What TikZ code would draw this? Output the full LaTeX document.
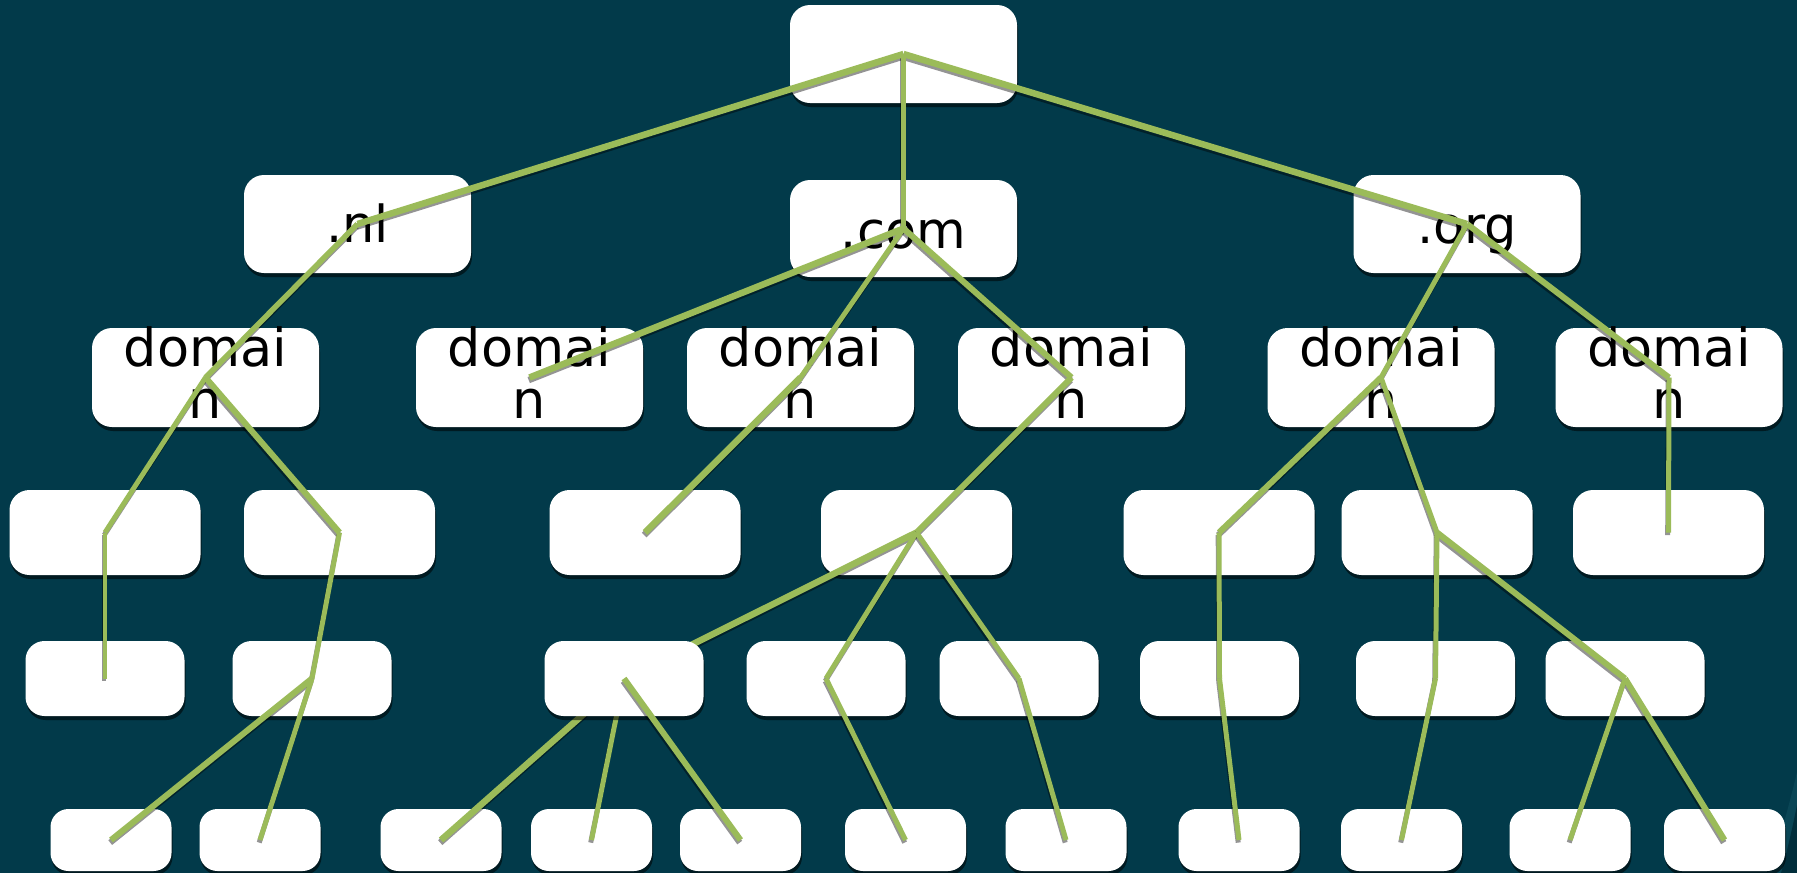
\documentclass[tikz,border=0pt]{standalone}
\usepackage{fontspec}
\setmainfont{DejaVu Sans}
\usetikzlibrary{shadows}
\definecolor{bgteal}{RGB}{2,58,74}
\definecolor{bglight}{RGB}{10,70,86}
\definecolor{bgdark}{RGB}{1,46,59}
\definecolor{lgreen}{RGB}{155,187,89}
\pgfdeclarelayer{bglayer}
\pgfdeclarelayer{boxes}
\pgfdeclarelayer{lowlines}
\pgfdeclarelayer{topbox}
\pgfsetlayers{bglayer,boxes,lowlines,topbox,main}
\tikzset{
  box/.style={fill=white, draw=none, inner sep=0pt, rounded corners=#1,
    general shadow={fill=black, fill opacity=0.55, shadow xshift=1pt, shadow yshift=-4pt}},
  box/.default=20pt,
  boxA/.style={box, minimum width=227pt, minimum height=98pt},
  boxB/.style={box, minimum width=191pt, minimum height=85pt},
  boxC/.style={box=19pt, minimum width=159pt, minimum height=75pt},
  boxD/.style={box=18pt, minimum width=121pt, minimum height=62pt},
  lbl/.style={font=\fontsize{51}{52}\selectfont, text=black, inner sep=0pt, anchor=base},
  dlbl/.style={lbl, font=\fontsize{52.5}{52}\selectfont},
  conn/.style={draw=lgreen, line width=5pt},
  connshadow/.style={draw=black, draw opacity=0.42, line width=5pt,
    transform canvas={xshift=-0.8pt, yshift=-2.6pt}},
}
\begin{document}
\begin{tikzpicture}[x=1pt,y=-1pt]
\useasboundingbox (0,0) rectangle (1797,873);
\begin{pgfonlayer}{bglayer}
  \fill[bgteal] (0,0) rectangle (1797,873);
  \fill[bglight] (1797,772) .. controls (1788,810) and (1778,845) .. (1768,873) -- (1797,873) -- cycle;
  \fill[bgdark] (1797,805) .. controls (1791,835) and (1786,855) .. (1781,873) -- (1797,873) -- cycle;
\end{pgfonlayer}

\begin{pgfonlayer}{boxes}
  % level 0 and 1
  \node[boxA] (r)   at (903.5,54) {};
  \node[boxA] (nl)  at (357.5,224) {};
  \node[boxA, minimum height=97pt] (com) at (903.5,228.5) {};
  \node[boxA] (org) at (1467,224) {};
  % level 2
  \foreach \n/\x in {d1/205.5, d2/529.5, d3/800.5, d4/1071.5, d5/1381, d6/1669}
    \node[boxA, minimum height=99pt] (\n) at (\x,377.5) {};
  % level 3
  \foreach \n/\x in {b1/105, b2/339.5, b3/645, b4/916.5, b5/1219, b6/1437, b7/1668.5}
    \node[boxB] (\n) at (\x,532.5) {};
  % level 4 (a3 is drawn on its own layer)
  \foreach \n/\x in {a1/105, a2/312, a4/826, a5/1019, a6/1219.5, a7/1435.5, a8/1625}
    \node[boxC] (\n) at (\x,678.5) {};
  % level 5
  \foreach \n/\x in {e1/111, e2/260, e3/441, e4/591.5, e5/740.5, e6/905.5, e7/1066, e8/1239, e9/1401.5, e10/1570, e11/1724.5}
    \node[boxD] (\n) at (\x,840) {};
  % labels
  \node[lbl] (tnl)  at (357.5,242) {.nl};
  \node[lbl] (tcom) at (903.5,248) {.com};
  \node[lbl] (torg) at (1467,243) {.org};
  \foreach \n/\x in {d1/205.5, d2/529.5, d3/800.5, d4/1071.5, d5/1381, d6/1669} {
    \node[dlbl] (\n-ta) at (\x,366) {domai};
    \node[dlbl] (\n-tb) at (\x,418) {n};
  }
\end{pgfonlayer}

\begin{pgfonlayer}{topbox}
  \node[boxC] (a3) at (624,678.5) {};
\end{pgfonlayer}

\begin{pgfonlayer}{lowlines}
  \foreach \a/\b/\w in {b4/a3/6.5, a3/e3/6.5, a3/e4/5} {
    \draw[connshadow, line width=\w pt] (\a.center) -- (\b.center);
    \draw[conn, line width=\w pt] (\a.center) -- (\b.center);
  }
\end{pgfonlayer}

\foreach \a/\b/\w in {
    r/nl/6.5, r/com/5, r/org/6.5,
    nl/d1/5.5, com/d2/6.5, com/d3/5, com/d4/6, org/d5/5, org/d6/6,
    d1/b1/5, d1/b2/6, d3/b3/6.5, d4/b4/6, d5/b5/6, d5/b6/5, d6/b7/5,
    b1/a1/4.5, b2/a2/5, b4/a4/5, b4/a5/5, b5/a6/5, b6/a7/5, b6/a8/6,
    a2/e1/6, a2/e2/5, a3/e5/6, a4/e6/5, a5/e7/5, a6/e8/5, a7/e9/5, a8/e10/5, a8/e11/6}
  \draw[connshadow, line width=\w pt] (\a.center) -- (\b.center);
\foreach \a/\b/\w in {
    r/nl/6.5, r/com/5, r/org/6.5,
    nl/d1/5.5, com/d2/6.5, com/d3/5, com/d4/6, org/d5/5, org/d6/6,
    d1/b1/5, d1/b2/6, d3/b3/6.5, d4/b4/6, d5/b5/6, d5/b6/5, d6/b7/5,
    b1/a1/4.5, b2/a2/5, b4/a4/5, b4/a5/5, b5/a6/5, b6/a7/5, b6/a8/6,
    a2/e1/6, a2/e2/5, a3/e5/6, a4/e6/5, a5/e7/5, a6/e8/5, a7/e9/5, a8/e10/5, a8/e11/6}
  \draw[conn, line width=\w pt] (\a.center) -- (\b.center);
\end{tikzpicture}
\end{document}
